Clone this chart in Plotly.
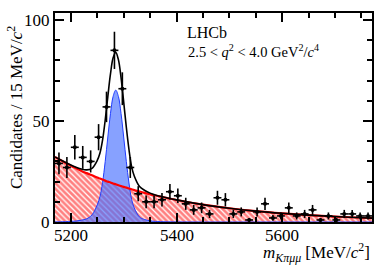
import numpy as np
import plotly.graph_objects as go

# ---- data ----
bin_centers = [5177.5 + 15 * i for i in range(40)]
counts = [29, 27, 37, 32, 30, 42, 57, 85, 66, 27,
          14, 10, 10, 11, 15, 13, 9, 6, 7, 4,
          12, 11, 4, 5, 1, 5, 9, 2, 3, 7,
          3, 4, 6, 1, 3, 1, 4, 4, 3, 3]

curve_x = [5170, 5180, 5200, 5210, 5220, 5230, 5240, 5250, 5255, 5260,
           5265, 5270, 5275, 5280, 5285, 5290, 5295, 5300, 5305, 5310,
           5315, 5320, 5330, 5340, 5350, 5360, 5380, 5400, 5450, 5500,
           5550, 5600, 5650, 5700, 5750, 5770]
background = [32.2, 30.7, 27.9, 26.6, 25.3, 24.2, 23.1, 22.0, 21.5, 21.0,
              20.5, 20.0, 19.6, 19.1, 18.7, 18.2, 17.8, 17.4, 17.0, 16.6,
              16.2, 15.8, 15.1, 14.4, 13.7, 13.1, 12.0, 10.9, 8.6, 6.8,
              5.4, 4.3, 3.4, 2.7, 2.1, 1.9]
signal = [0.05, 0.1, 0.3, 0.5, 0.9, 1.6, 3.5, 8.5, 12.5, 19.5,
          29.9, 42.1, 53.7, 62.2, 65.3, 62.2, 53.7, 42.1, 29.9, 19.3,
          11.2, 7.0, 2.5, 1.2, 0.6, 0.3, 0.1, 0.05, 0.0, 0.0,
          0.0, 0.0, 0.0, 0.0, 0.0, 0.0]
total = [b + s for b, s in zip(background, signal)]

x_ticks = [5200, 5400, 5600]
x_tick_labels = ["5200", "5400", "5600"]
y_ticks = [0, 50, 100]

FONT = "Times New Roman, Liberation Serif, Tinos, serif"

fig = go.Figure()

# background: hatched red
fig.add_trace(go.Scatter(
    x=curve_x, y=background, mode="lines", line=dict(color="rgba(0,0,0,0)", width=0),
    fill="tozeroy", fillcolor="rgba(255,255,255,0)",
    fillpattern=dict(shape="\\", fgcolor="#ff0000", bgcolor="rgba(255,255,255,0)",
                     size=4, solidity=0.68),
    line_shape="spline", hoverinfo="skip", showlegend=False))

# signal: filled blue
fig.add_trace(go.Scatter(
    x=curve_x, y=signal, mode="lines", line=dict(color="#1f3cff", width=1),
    fill="tozeroy", fillcolor="rgba(70,110,255,0.65)",
    line_shape="spline", hoverinfo="skip", showlegend=False))

# background line
fig.add_trace(go.Scatter(
    x=curve_x, y=background, mode="lines", line=dict(color="red", width=2.2),
    line_shape="spline", hoverinfo="skip", showlegend=False))

# total fit
fig.add_trace(go.Scatter(
    x=curve_x, y=total, mode="lines", line=dict(color="black", width=1.6),
    line_shape="spline", hoverinfo="skip", showlegend=False))

# data
fig.add_trace(go.Scatter(
    x=bin_centers, y=counts, mode="markers",
    marker=dict(color="black", size=4),
    error_y=dict(type="data", array=[np.sqrt(c) for c in counts],
                 thickness=1.6, width=0, color="black"),
    error_x=dict(type="constant", value=7.5, thickness=1.6, width=0, color="black"),
    hoverinfo="skip", showlegend=False))

axis_common = dict(showline=True, linecolor="black", linewidth=2, mirror="allticks",
                   ticks="inside", tickcolor="black", tickwidth=1.5, ticklen=9,
                   showgrid=False, zeroline=False,
                   tickfont=dict(family=FONT, size=17, color="black"))

fig.update_xaxes(range=[5170, 5770], tickvals=x_ticks, showticklabels=False,
                 minor=dict(ticks="inside", ticklen=5, dtick=50, tick0=5200,
                            tickcolor="black", tickwidth=1.5, showgrid=False),
                 **axis_common)
fig.update_yaxes(range=[0, 103.5], tickvals=y_ticks,
                 minor=dict(ticks="inside", ticklen=5, dtick=10, tick0=0,
                            tickcolor="black", tickwidth=1.5, showgrid=False),
                 **axis_common)

# x tick labels placed through the x axis' own data scale
for xv, lab in zip(x_ticks, x_tick_labels):
    fig.add_annotation(text=lab, xref="x", yref="paper", x=xv, y=-0.064,
                       xanchor="center", yanchor="middle", showarrow=False,
                       font=dict(family=FONT, size=17, color="black"))

fig.add_annotation(text="Candidates / 15 MeV/<i>c</i><sup>2</sup>",
                   xref="paper", yref="paper", x=-0.126, y=0.945,
                   xanchor="center", yanchor="top", textangle=-90, showarrow=False,
                   font=dict(family=FONT, size=17, color="black"))
fig.add_annotation(text="<i>m</i><sub><i>Kπμμ</i></sub> [MeV/<i>c</i><sup>2</sup>]",
                   xref="paper", yref="paper", x=1.0, y=-0.078,
                   xanchor="right", yanchor="top", showarrow=False,
                   font=dict(family=FONT, size=17, color="black"))
fig.add_annotation(text="LHCb",
                   xref="paper", yref="paper", x=0.41, y=0.956,
                   xanchor="left", yanchor="top", showarrow=False,
                   font=dict(family=FONT, size=16, color="black"))
fig.add_annotation(text="2.5 &lt; <i>q</i><sup>2</sup> &lt; 4.0 GeV<sup>2</sup>/<i>c</i><sup>4</sup>",
                   xref="paper", yref="paper", x=0.413, y=0.872,
                   xanchor="left", yanchor="top", showarrow=False,
                   font=dict(family=FONT, size=14.5, color="black"))

fig.update_layout(width=392, height=266,
                  margin=dict(l=55, r=20, t=13, b=44),
                  paper_bgcolor="white", plot_bgcolor="white",
                  font=dict(family=FONT))

fig.write_html("out.html", config={"displayModeBar": False},
               post_script="document.body.style.margin='0';document.body.style.overflow='hidden';")
